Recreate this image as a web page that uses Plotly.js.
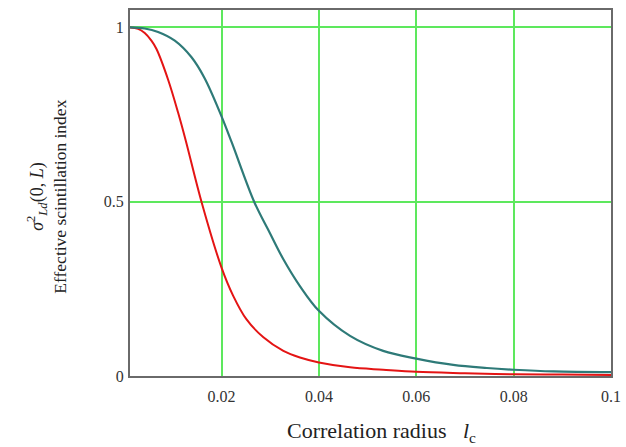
<!DOCTYPE html>
<html>
<head>
<meta charset="utf-8">
<script src="https://cdn.plot.ly/plotly-3.0.1.min.js"></script>
<style>html,body{margin:0;padding:0;background:#fff;}#chart{width:626px;height:447px;}</style>
</head>
<body>
<div id="chart"></div>
<script>
// Red curve (faster decay)
const redX = [0.0012, 0.00286, 0.00423, 0.0056, 0.00664, 0.00903, 0.01109, 0.01266, 0.01588, 0.02, 0.0224, 0.0251, 0.0286, 0.0327, 0.0361, 0.04, 0.0464, 0.0532, 0.06, 0.07, 0.08, 0.09, 0.1];
const redY = [1.0, 0.996, 0.984, 0.962, 0.938, 0.85, 0.755, 0.675, 0.5, 0.311, 0.23, 0.163, 0.111, 0.072, 0.053, 0.039, 0.025, 0.018, 0.012, 0.008, 0.005, 0.004, 0.003];
// Teal curve (slower decay)
const tealX = [0.0012, 0.00423, 0.00697, 0.0104, 0.0138, 0.0165, 0.02, 0.0221, 0.0267, 0.0299, 0.0327, 0.0361, 0.04, 0.0464, 0.0532, 0.06, 0.0676, 0.0745, 0.08, 0.0882, 0.1];
const tealY = [1.0, 0.997, 0.987, 0.962, 0.915, 0.855, 0.745, 0.67, 0.5, 0.411, 0.335, 0.258, 0.187, 0.115, 0.072, 0.05, 0.032, 0.023, 0.018, 0.013, 0.011];
const xTicks = [0.02, 0.04, 0.06, 0.08, 0.1];
const xTickText = ["0.02", "0.04", "0.06", "0.08", "0.1"];
const yTicks = [0, 0.5, 1];
const yTickText = ["0", "0.5", "1"];

const serif = "Liberation Serif, Times New Roman, serif";
const traces = [
  {x: redX, y: redY, mode: 'lines', line: {color: '#e41414', width: 2, shape: 'spline', smoothing: 1}, hoverinfo: 'skip'},
  {x: tealX, y: tealY, mode: 'lines', line: {color: '#2e7a78', width: 2.2, shape: 'spline', smoothing: 1}, hoverinfo: 'skip'}
];
const layout = {
  width: 626, height: 447,
  margin: {l: 130, r: 15, t: 10, b: 71},
  paper_bgcolor: '#fff', plot_bgcolor: '#fff',
  showlegend: false,
  xaxis: {
    range: [0.0012, 0.1], tickvals: xTicks, ticktext: xTickText,
    showgrid: true, gridcolor: '#5de85d', gridwidth: 2,
    zeroline: false, showline: true, linecolor: '#6a6a6a', linewidth: 2, mirror: true,
    ticks: 'outside', ticklen: 5, tickcolor: 'rgba(0,0,0,0)',
    tickfont: {family: serif, size: 16, color: '#333'}
  },
  yaxis: {
    range: [0, 1.05], tickvals: yTicks, ticktext: yTickText,
    showgrid: true, gridcolor: '#5de85d', gridwidth: 2,
    zeroline: false, showline: true, linecolor: '#6a6a6a', linewidth: 2, mirror: true,
    ticks: 'outside', ticklen: 1, tickcolor: 'rgba(0,0,0,0)',
    tickfont: {family: serif, size: 16, color: '#333'}
  },
  annotations: [
    {text: 'Correlation radius &nbsp;&nbsp;<i>l</i><sub>c</sub>', xref: 'paper', yref: 'paper', x: 0.522, y: -0.152, xanchor: 'center', yanchor: 'middle', showarrow: false, font: {family: serif, size: 22, color: '#222'}},
    {text: 'Effective scintillation index', xref: 'paper', yref: 'paper', x: -0.1455, y: 0.49, xanchor: 'center', yanchor: 'middle', textangle: -90, showarrow: false, font: {family: serif, size: 17.5, color: '#222'}},
    {text: '<i>σ</i><sup>2</sup><sub><i>Ld</i></sub>(0, <i>L</i>)', xref: 'paper', yref: 'paper', x: -0.193, y: 0.49, xanchor: 'center', yanchor: 'middle', textangle: -90, showarrow: false, font: {family: serif, size: 18, color: '#222'}}
  ]
};
Plotly.newPlot('chart', traces, layout, {staticPlot: true, displayModeBar: false});
</script>
</body>
</html>
